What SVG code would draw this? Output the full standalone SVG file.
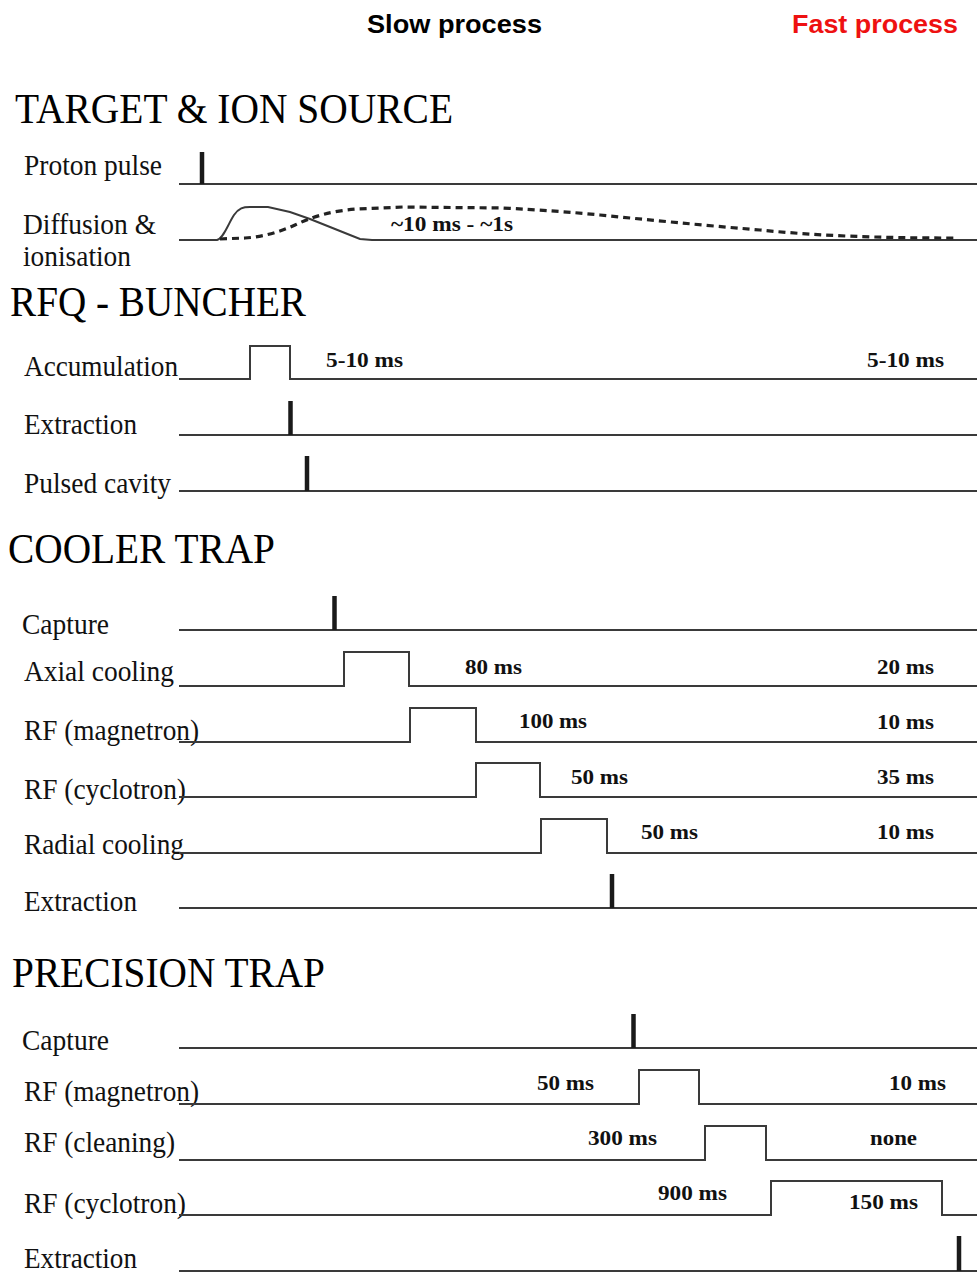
<svg xmlns="http://www.w3.org/2000/svg" width="977" height="1272" viewBox="0 0 977 1272">
<style>
.hd{font-family:"Liberation Sans",Arial,sans-serif;font-weight:bold;font-size:26px}
.ttl{font-family:"Liberation Serif","Times New Roman",serif;font-size:42px;fill:#000}
.lbl{font-family:"Liberation Serif","Times New Roman",serif;font-size:29.5px;fill:#111}
.val{font-family:"Liberation Serif","Times New Roman",serif;font-weight:bold;font-size:21.5px;fill:#111}
.sig{fill:none;stroke:#3a3a3a;stroke-width:2}
.spk{stroke:#1a1a1a;stroke-width:4.5}
.dash{fill:none;stroke:#222;stroke-width:3.2;stroke-dasharray:7 5}
</style>
<rect width="977" height="1272" fill="#fff"/>
<g id="headers">
<text class="hd" x="367" y="33" textLength="175" lengthAdjust="spacingAndGlyphs">Slow process</text>
<text class="hd" x="792" y="33" textLength="166" lengthAdjust="spacingAndGlyphs" fill="#ee1111">Fast process</text>
</g>
<g id="section-target">
<text class="ttl" x="15" y="123" textLength="438" lengthAdjust="spacingAndGlyphs">TARGET &amp; ION SOURCE</text>
</g>
<g id="row-proton-pulse">
<text class="lbl" x="24" y="175" textLength="138" lengthAdjust="spacingAndGlyphs">Proton pulse</text>
<path class="sig" d="M179,184 H977"/>
<line class="spk" x1="202" y1="152" x2="202" y2="184"/>
</g>
<g id="row-diffusion">
<text class="lbl" x="23" y="234" textLength="133" lengthAdjust="spacingAndGlyphs">Diffusion &amp;</text>
<text class="lbl" x="23" y="266" textLength="108" lengthAdjust="spacingAndGlyphs">ionisation</text>
<path class="sig" d="M179,240 L217,240 C224,238 229,222 234,215 C239,208 243,207 250,207 L268,207 L290,212 L310,219 L330,227 L350,235 L360,239 L372,240 L977,240"/>
<path class="dash" d="M220,239 L245,238 C262,237 280,232 295,225 C312,217 330,211 357,209 L403,207 L503,208 C540,210 570,212 600,215 C650,220 700,225 760,230 C820,236 880,238 955,238"/>
<text class="val" x="391" y="231" textLength="122" lengthAdjust="spacingAndGlyphs">~10 ms - ~1s</text>
</g>
<g id="section-rfq">
<text class="ttl" x="10" y="316" textLength="296" lengthAdjust="spacingAndGlyphs">RFQ - BUNCHER</text>
</g>
<g id="row-accumulation">
<text class="lbl" x="24" y="376" textLength="154" lengthAdjust="spacingAndGlyphs">Accumulation</text>
<path class="sig" d="M179,379 H250 V346 H290 V379 H977"/>
<text class="val" x="326" y="367" textLength="77" lengthAdjust="spacingAndGlyphs">5-10 ms</text>
<text class="val" x="867" y="367" textLength="77" lengthAdjust="spacingAndGlyphs">5-10 ms</text>
</g>
<g id="row-rfq-extraction">
<text class="lbl" x="24" y="434" textLength="113" lengthAdjust="spacingAndGlyphs">Extraction</text>
<path class="sig" d="M179,435 H977"/>
<line class="spk" x1="290.5" y1="401" x2="290.5" y2="435"/>
</g>
<g id="row-pulsed-cavity">
<text class="lbl" x="24" y="493" textLength="147" lengthAdjust="spacingAndGlyphs">Pulsed cavity</text>
<path class="sig" d="M179,491 H977"/>
<line class="spk" x1="307" y1="456" x2="307" y2="491"/>
</g>
<g id="section-cooler">
<text class="ttl" x="8" y="563" textLength="267" lengthAdjust="spacingAndGlyphs">COOLER TRAP</text>
</g>
<g id="row-cooler-capture">
<text class="lbl" x="22" y="634" textLength="87" lengthAdjust="spacingAndGlyphs">Capture</text>
<path class="sig" d="M179,630 H977"/>
<line class="spk" x1="334.5" y1="596" x2="334.5" y2="630"/>
</g>
<g id="row-axial-cooling">
<text class="lbl" x="24" y="681" textLength="150" lengthAdjust="spacingAndGlyphs">Axial cooling</text>
<path class="sig" d="M179,686 H344 V652 H409 V686 H977"/>
<text class="val" x="465" y="674" textLength="57" lengthAdjust="spacingAndGlyphs">80 ms</text>
<text class="val" x="877" y="674" textLength="57" lengthAdjust="spacingAndGlyphs">20 ms</text>
</g>
<g id="row-cooler-rf-magnetron">
<text class="lbl" x="24" y="740" textLength="175" lengthAdjust="spacingAndGlyphs">RF (magnetron)</text>
<path class="sig" d="M179,742 H410 V708 H476 V742 H977"/>
<text class="val" x="519" y="728" textLength="68" lengthAdjust="spacingAndGlyphs">100 ms</text>
<text class="val" x="877" y="729" textLength="57" lengthAdjust="spacingAndGlyphs">10 ms</text>
</g>
<g id="row-cooler-rf-cyclotron">
<text class="lbl" x="24" y="799" textLength="162" lengthAdjust="spacingAndGlyphs">RF (cyclotron)</text>
<path class="sig" d="M179,797 H476 V763 H540 V797 H977"/>
<text class="val" x="571" y="784" textLength="57" lengthAdjust="spacingAndGlyphs">50 ms</text>
<text class="val" x="877" y="784" textLength="57" lengthAdjust="spacingAndGlyphs">35 ms</text>
</g>
<g id="row-radial-cooling">
<text class="lbl" x="24" y="854" textLength="160" lengthAdjust="spacingAndGlyphs">Radial cooling</text>
<path class="sig" d="M179,853 H541 V819 H607 V853 H977"/>
<text class="val" x="641" y="839" textLength="57" lengthAdjust="spacingAndGlyphs">50 ms</text>
<text class="val" x="877" y="839" textLength="57" lengthAdjust="spacingAndGlyphs">10 ms</text>
</g>
<g id="row-cooler-extraction">
<text class="lbl" x="24" y="911" textLength="113" lengthAdjust="spacingAndGlyphs">Extraction</text>
<path class="sig" d="M179,908 H977"/>
<line class="spk" x1="612" y1="874" x2="612" y2="908"/>
</g>
<g id="section-precision">
<text class="ttl" x="12" y="987" textLength="313" lengthAdjust="spacingAndGlyphs">PRECISION TRAP</text>
</g>
<g id="row-precision-capture">
<text class="lbl" x="22" y="1050" textLength="87" lengthAdjust="spacingAndGlyphs">Capture</text>
<path class="sig" d="M179,1048 H977"/>
<line class="spk" x1="633.5" y1="1014" x2="633.5" y2="1048"/>
</g>
<g id="row-precision-rf-magnetron">
<text class="lbl" x="24" y="1101" textLength="175" lengthAdjust="spacingAndGlyphs">RF (magnetron)</text>
<path class="sig" d="M179,1104 H639 V1070 H699 V1104 H977"/>
<text class="val" x="537" y="1090" textLength="57" lengthAdjust="spacingAndGlyphs">50 ms</text>
<text class="val" x="889" y="1090" textLength="57" lengthAdjust="spacingAndGlyphs">10 ms</text>
</g>
<g id="row-rf-cleaning">
<text class="lbl" x="24" y="1152" textLength="151" lengthAdjust="spacingAndGlyphs">RF (cleaning)</text>
<path class="sig" d="M179,1160 H705 V1126 H766 V1160 H977"/>
<text class="val" x="588" y="1145" textLength="69" lengthAdjust="spacingAndGlyphs">300 ms</text>
<text class="val" x="870" y="1145" textLength="47" lengthAdjust="spacingAndGlyphs">none</text>
</g>
<g id="row-precision-rf-cyclotron">
<text class="lbl" x="24" y="1213" textLength="162" lengthAdjust="spacingAndGlyphs">RF (cyclotron)</text>
<path class="sig" d="M179,1215 H771 V1181 H942 V1215 H977"/>
<text class="val" x="658" y="1200" textLength="69" lengthAdjust="spacingAndGlyphs">900 ms</text>
<text class="val" x="849" y="1209" textLength="69" lengthAdjust="spacingAndGlyphs">150 ms</text>
</g>
<g id="row-precision-extraction">
<text class="lbl" x="24" y="1268" textLength="113" lengthAdjust="spacingAndGlyphs">Extraction</text>
<path class="sig" d="M179,1271 H977"/>
<line class="spk" x1="959" y1="1236" x2="959" y2="1271"/>
</g>
</svg>
